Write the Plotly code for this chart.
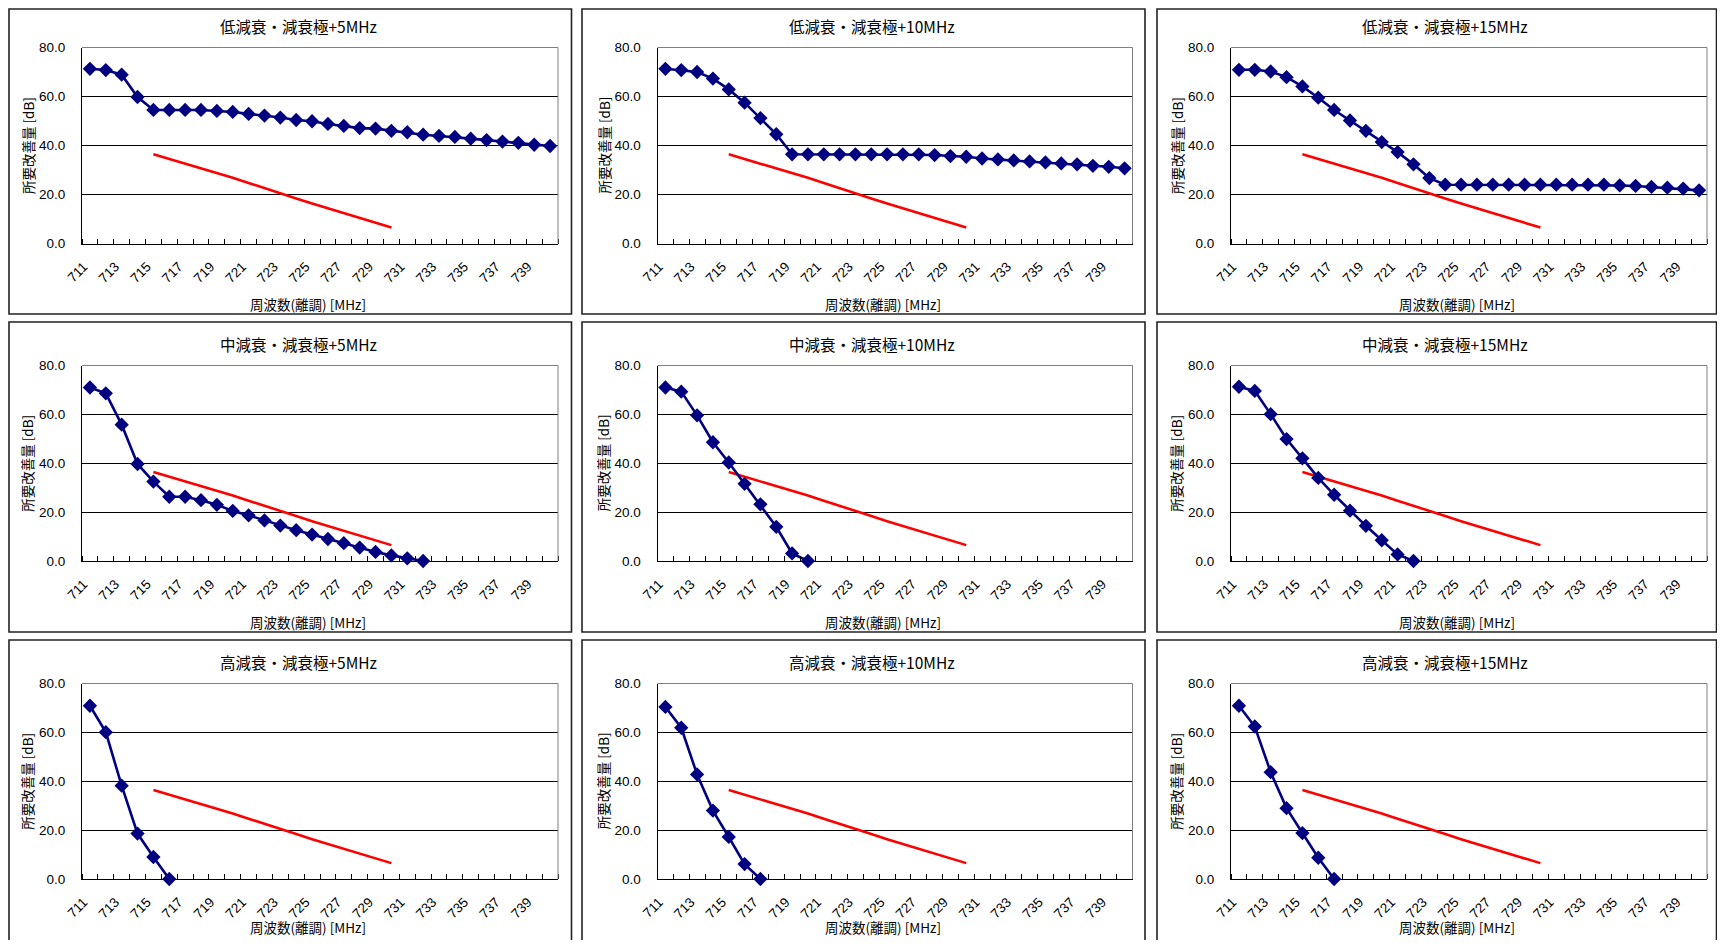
import plotly.graph_objects as go

# The page keeps the browser's 8px body margin, so the figure is sized to fit
# exactly inside the window with that margin; page coordinates are mapped into it.
W, H = 1725, 948
OFF = 8
FW, FH = W - 2 * OFF, H - 2 * OFF

# ---------------- data ----------------
freq = [711, 712, 713, 714, 715, 716, 717, 718, 719, 720,
        721, 722, 723, 724, 725, 726, 727, 728, 729, 730,
        731, 732, 733, 734, 735, 736, 737, 738, 739, 740]
tick_labels = ["711", "713", "715", "717", "719", "721", "723", "725",
               "727", "729", "731", "733", "735", "737", "739"]

red_freq = [715, 716, 717, 718, 719, 720, 721, 722, 723, 724, 725, 726, 727, 728, 729, 730]
red_vals = [36.4, 34.5, 32.7, 30.8, 29.0, 26.8, 24.7, 22.5, 20.4, 18.4, 16.3, 14.3, 12.3, 10.4, 8.4, 6.5]

low_5 = [71.3, 70.8, 68.9, 59.8, 54.5, 54.5, 54.5, 54.5, 54.1, 53.7,
         52.9, 52.2, 51.4, 50.4, 49.9, 48.8, 48.0, 47.1, 46.9, 46.0,
         45.4, 44.4, 43.9, 43.5, 42.8, 42.2, 41.6, 41.1, 40.3, 39.8]
low_10 = [71.3, 70.8, 70.0, 67.3, 62.9, 57.5, 51.2, 44.6, 36.4, 36.4,
          36.4, 36.4, 36.4, 36.4, 36.4, 36.4, 36.4, 36.1, 35.7, 35.4,
          34.7, 34.3, 33.9, 33.5, 33.1, 32.7, 32.3, 31.7, 31.3, 30.7]
low_15 = [70.9, 70.9, 70.2, 67.9, 64.1, 59.5, 54.5, 50.2, 46.0, 41.4,
          37.3, 32.3, 26.7, 24.0, 24.0, 24.0, 24.0, 24.0, 24.0, 24.0,
          24.0, 24.0, 24.0, 24.0, 23.7, 23.5, 23.1, 22.8, 22.4, 21.7]
mid_5 = [71.0, 68.6, 55.8, 39.7, 32.5, 26.3, 26.3, 24.9, 23.0, 20.5,
         18.7, 16.6, 14.5, 12.6, 10.8, 9.0, 7.3, 5.5, 3.7, 2.3, 1.1, 0.0]
mid_10 = [71.0, 69.3, 59.6, 48.6, 40.3, 31.6, 23.2, 14.0, 3.1, 0.0]
mid_15 = [71.3, 69.6, 60.1, 49.9, 42.0, 34.0, 27.1, 20.6, 14.4, 8.5, 2.7, 0.0]
high_5 = [70.9, 60.1, 38.2, 18.6, 9.0, 0.0]
high_10 = [70.4, 61.9, 42.8, 28.0, 17.2, 6.1, 0.0]
high_15 = [70.9, 62.4, 43.7, 29.0, 18.8, 8.7, 0.0]

titles = ["低減衰・減衰極+5MHz", "低減衰・減衰極+10MHz", "低減衰・減衰極+15MHz",
          "中減衰・減衰極+5MHz", "中減衰・減衰極+10MHz", "中減衰・減衰極+15MHz",
          "高減衰・減衰極+5MHz", "高減衰・減衰極+10MHz", "高減衰・減衰極+15MHz"]
series = [low_5, low_10, low_15, mid_5, mid_10, mid_15, high_5, high_10, high_15]

y_title = "所要改善量 [dB]"
x_title = "周波数(離調) [MHz]"

# ---------------- layout geometry (page pixels) ----------------
col_plot = [(82, 558), (657.5, 1132.5), (1231, 1707)]
row_plot = [(47.5, 243.5), (365.5, 561), (683.5, 879)]
col_box = [(9, 571.5), (582, 1145), (1157, 1716.5)]
row_box = [(9, 314), (322, 632), (640, 970)]
title_y = [25.5, 343.5, 661.5]
xtitle_y = [304, 622, 927]

FONT = "Liberation Sans, Noto Sans CJK JP, sans-serif"
JFONT = "Noto Sans CJK JP, sans-serif"


def fx(px):
    return (px - OFF) / FW


def fy(py):
    return 1 - (py - OFF) / FH


fig = go.Figure()
shapes = []
annotations = []

boundaries = [f - 0.5 for f in freq] + [freq[-1] + 0.5]
label_pos = [int(t) - 0.4 for t in tick_labels]

for i in range(9):
    r, c = divmod(i, 3)
    n = i + 1
    xa = "xaxis" if n == 1 else f"xaxis{n}"
    ya = "yaxis" if n == 1 else f"yaxis{n}"
    xr = "x" if n == 1 else f"x{n}"
    yr = "y" if n == 1 else f"y{n}"
    x0, x1 = col_plot[c]
    y0, y1 = row_plot[r]

    vals = series[i]
    fig.add_trace(go.Scatter(
        x=red_freq, y=red_vals, mode="lines",
        line=dict(color="#FF0000", width=2.6),
        xaxis=xr, yaxis=yr, showlegend=False, hoverinfo="skip"))
    fig.add_trace(go.Scatter(
        x=freq[:len(vals)], y=vals, mode="lines+markers",
        line=dict(color="#000080", width=2.6),
        marker=dict(symbol="diamond", size=11, color="#000080"),
        cliponaxis=False,
        xaxis=xr, yaxis=yr, showlegend=False))

    fig.layout[xa] = dict(
        domain=[fx(x0), fx(x1)], anchor=yr, range=[710.5, 740.5],
        tickmode="array", tickvals=label_pos, ticktext=tick_labels,
        tickangle=-45, ticks="", showgrid=False, zeroline=False,
        showline=True, linecolor="black", linewidth=1,
        tickfont=dict(family=FONT, size=13.5, color="black"),
        ticklabelstandoff=9, automargin=False,
        minor=dict(tickmode="array", tickvals=boundaries, ticks="inside",
                   ticklen=5, tickcolor="black", tickwidth=1, showgrid=False),
        fixedrange=True)
    fig.layout[ya] = dict(
        domain=[fy(y1), fy(y0)], anchor=xr, range=[0, 80],
        tickmode="array", tickvals=[0, 20, 40, 60, 80], tickformat=".1f",
        ticks="", showgrid=True, gridcolor="black", gridwidth=1,
        zeroline=False, showline=True, linecolor="black", linewidth=1,
        tickfont=dict(family=FONT, size=13.5, color="black"),
        ticklabelstandoff=13, automargin=False, fixedrange=True)

    # gray top and right edges of plot area
    shapes.append(dict(type="line", xref=f"{xr} domain", yref=f"{yr} domain",
                       x0=0, x1=1, y0=1, y1=1, line=dict(color="#808080", width=1), layer="above"))
    shapes.append(dict(type="line", xref=f"{xr} domain", yref=f"{yr} domain",
                       x0=1, x1=1, y0=0, y1=1, line=dict(color="#808080", width=1), layer="above"))

    # chart box border
    bx0, bx1 = col_box[c]
    by0, by1 = row_box[r]
    shapes.append(dict(type="rect", xref="paper", yref="paper",
                       x0=fx(bx0), x1=fx(bx1), y0=fy(by1), y1=fy(by0),
                       line=dict(color="#222222", width=1.6), layer="below"))

    # titles
    annotations.append(dict(text=titles[i], xref="paper", yref="paper",
                            x=fx((bx0 + bx1) / 2 + 8), y=fy(title_y[r]),
                            xanchor="center", yanchor="middle", showarrow=False,
                            font=dict(family=JFONT, size=15.5, color="black")))
    annotations.append(dict(text=y_title, xref="paper", yref="paper",
                            x=fx(x0 - 54.5), y=fy((y0 + y1) / 2), textangle=-90,
                            xanchor="center", yanchor="middle", showarrow=False,
                            font=dict(family=JFONT, size=13.5, color="black")))
    annotations.append(dict(text=x_title, xref="paper", yref="paper",
                            x=fx((x0 + x1) / 2 - 12), y=fy(xtitle_y[r]),
                            xanchor="center", yanchor="middle", showarrow=False,
                            font=dict(family=JFONT, size=13.5, color="black")))

fig.update_layout(
    width=FW, height=FH, autosize=False,
    margin=dict(l=0, r=0, t=0, b=0, pad=0, autoexpand=False),
    paper_bgcolor="white", plot_bgcolor="white",
    shapes=shapes, annotations=annotations, showlegend=False,
)

fig.write_html("out.html", config={"displayModeBar": False})
